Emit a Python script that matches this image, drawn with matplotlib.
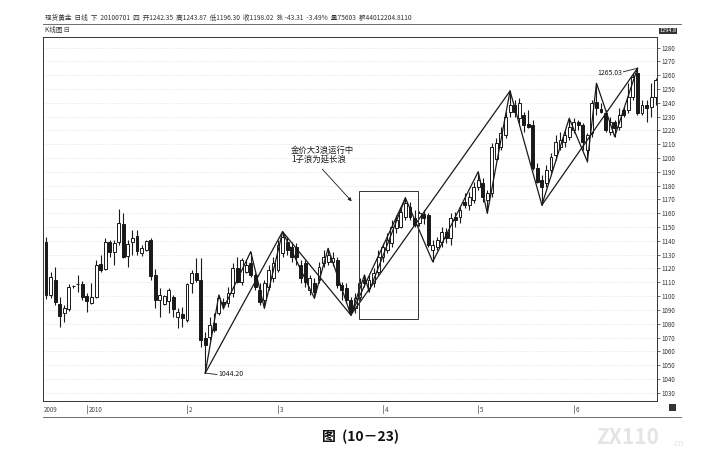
import matplotlib.pyplot as plt
from matplotlib.patches import Rectangle
from matplotlib.lines import Line2D

plt.rcParams['font.family'] = ['Noto Sans CJK SC', 'DejaVu Sans']

# daily candles, Dec 2009 - Jun 2010
opens = [1139.4, 1100.8, 1111.7, 1094.3, 1087.8, 1090.4, 1107.3, 1108.8, 1108.8, 1100.1,
         1095.2, 1099.6, 1123.3, 1119.4, 1139.4, 1132.2, 1139.4, 1152.2, 1129.1, 1139.4,
         1143.6, 1131.0, 1133.4, 1140.7, 1115.3, 1097.2, 1094.3, 1096.7, 1099.6, 1085.1,
         1087.0, 1082.7, 1109.3, 1116.5, 1111.7, 1069.4, 1070.6, 1080.3, 1087.5, 1095.9,
         1095.0, 1102.2, 1120.4, 1110.4, 1117.7, 1123.8, 1115.3, 1104.4, 1097.2, 1106.8,
         1112.9, 1118.9, 1131.0, 1139.4, 1135.8, 1135.8, 1122.5, 1123.8, 1104.4, 1109.3,
         1111.7, 1123.8, 1124.9, 1124.7, 1126.2, 1108.1, 1105.6, 1097.2, 1091.4, 1099.6,
         1111.7, 1105.9, 1109.5, 1117.7, 1128.6, 1133.4, 1138.3, 1149.1, 1150.3, 1157.6,
         1164.8, 1156.4, 1152.9, 1159.5, 1158.8, 1133.4, 1135.8, 1139.4, 1146.7, 1141.9,
         1157.6, 1157.6, 1168.4, 1166.0, 1169.6, 1179.3, 1181.7, 1169.6, 1174.5, 1199.0,
         1208.2, 1216.7, 1233.6, 1238.5, 1229.0, 1231.2, 1224.7, 1224.0, 1192.6, 1184.1,
         1181.7, 1191.4, 1202.2, 1208.2, 1211.9, 1215.5, 1220.3, 1226.4, 1224.0, 1205.9,
         1218.0, 1240.9, 1235.6, 1232.4, 1219.1, 1226.4, 1222.7, 1234.8, 1234.8, 1244.5,
         1261.4, 1232.4, 1238.5, 1237.3, 1244.5]
highs = [1142.6, 1117.7, 1121.1, 1099.6, 1093.5, 1108.8, 1108.0, 1115.3, 1110.9, 1102.2,
         1109.5, 1126.2, 1129.8, 1142.1, 1140.7, 1140.7, 1162.9, 1160.2, 1140.7, 1147.9,
         1147.9, 1137.0, 1140.7, 1142.1, 1119.6, 1105.9, 1100.8, 1105.9, 1100.8, 1091.4,
         1092.3, 1109.5, 1118.9, 1127.6, 1127.6, 1074.2, 1085.1, 1087.8, 1100.8, 1098.6,
         1106.8, 1124.0, 1128.6, 1127.6, 1126.2, 1132.2, 1116.7, 1109.3, 1111.7, 1122.5,
         1128.6, 1140.7, 1146.7, 1143.1, 1139.4, 1138.3, 1126.2, 1126.2, 1115.3, 1112.9,
         1124.9, 1133.4, 1134.6, 1131.9, 1128.6, 1110.4, 1109.3, 1099.6, 1102.2, 1113.1,
         1115.3, 1115.3, 1120.4, 1133.4, 1138.3, 1145.5, 1155.1, 1158.8, 1164.8, 1171.1,
         1168.4, 1162.4, 1161.6, 1162.4, 1160.0, 1140.7, 1143.1, 1150.3, 1149.1, 1160.0,
         1161.2, 1164.8, 1174.5, 1175.7, 1182.9, 1190.1, 1185.3, 1176.9, 1210.7, 1214.3,
         1222.7, 1233.6, 1248.6, 1242.1, 1243.5, 1233.6, 1235.0, 1227.6, 1196.2, 1187.7,
         1195.0, 1203.5, 1216.7, 1219.1, 1220.3, 1228.8, 1228.8, 1227.6, 1225.2, 1218.0,
         1242.1, 1254.2, 1239.7, 1234.8, 1230.0, 1227.6, 1236.1, 1237.2, 1254.2, 1261.4,
         1265.03, 1242.1, 1242.1, 1254.2, 1257.8]
lows = [1097.7, 1098.4, 1093.5, 1077.8, 1081.4, 1089.2, 1106.0, 1103.2, 1097.2, 1088.7,
        1094.6, 1098.6, 1117.5, 1118.9, 1128.6, 1122.5, 1137.0, 1127.6, 1121.1, 1129.8,
        1129.8, 1129.1, 1132.7, 1111.7, 1091.4, 1085.1, 1093.5, 1087.8, 1085.1, 1076.9,
        1077.8, 1081.4, 1102.2, 1110.2, 1063.3, 1044.2, 1068.2, 1074.2, 1086.3, 1091.0,
        1092.3, 1099.6, 1109.3, 1108.1, 1116.5, 1114.1, 1104.4, 1093.5, 1091.2, 1104.4,
        1110.4, 1117.7, 1128.6, 1129.8, 1124.9, 1122.5, 1109.3, 1106.8, 1100.8, 1098.4,
        1109.3, 1121.3, 1122.5, 1121.8, 1105.6, 1097.2, 1094.8, 1086.3, 1087.5, 1097.2,
        1106.8, 1103.2, 1106.8, 1115.3, 1124.9, 1131.0, 1135.8, 1145.5, 1149.1, 1155.1,
        1155.1, 1150.3, 1150.8, 1152.2, 1135.8, 1124.9, 1133.4, 1135.8, 1138.3, 1137.0,
        1150.3, 1152.7, 1163.6, 1162.4, 1167.2, 1176.9, 1168.4, 1160.0, 1172.0, 1198.6,
        1205.9, 1214.3, 1230.0, 1230.0, 1225.2, 1219.1, 1221.8, 1191.4, 1181.7, 1166.0,
        1179.3, 1189.0, 1198.6, 1205.9, 1208.2, 1213.1, 1218.0, 1220.3, 1205.9, 1197.4,
        1215.5, 1231.2, 1232.4, 1219.1, 1216.7, 1215.5, 1220.3, 1230.0, 1232.4, 1242.1,
        1231.2, 1231.2, 1226.4, 1230.0, 1238.5]
closes = [1100.8, 1114.1, 1095.9, 1085.6, 1091.4, 1106.8, 1107.0, 1108.5, 1099.6, 1096.7,
          1099.1, 1122.5, 1118.9, 1139.4, 1132.2, 1138.3, 1152.8, 1128.6, 1137.7, 1141.9,
          1132.9, 1134.6, 1139.9, 1114.6, 1097.2, 1100.8, 1100.1, 1104.4, 1090.4, 1088.7,
          1083.9, 1108.8, 1116.5, 1111.7, 1068.2, 1064.6, 1079.0, 1075.4, 1098.4, 1094.3,
          1102.2, 1120.4, 1110.4, 1126.2, 1122.5, 1115.3, 1106.8, 1095.9, 1109.3, 1118.9,
          1123.8, 1137.0, 1143.1, 1133.4, 1128.6, 1128.6, 1112.9, 1110.4, 1112.9, 1103.2,
          1121.3, 1128.6, 1129.8, 1127.6, 1108.1, 1104.4, 1097.2, 1088.7, 1098.6, 1109.5,
          1109.5, 1111.7, 1116.7, 1128.6, 1135.8, 1140.7, 1150.3, 1155.1, 1161.2, 1167.2,
          1157.6, 1151.5, 1160.2, 1156.6, 1137.0, 1137.0, 1140.7, 1146.7, 1141.9, 1156.4,
          1155.1, 1162.4, 1166.0, 1172.0, 1179.3, 1184.1, 1172.0, 1174.5, 1208.2, 1210.7,
          1217.9, 1230.0, 1238.5, 1233.6, 1240.0, 1224.0, 1222.7, 1192.6, 1182.9, 1179.3,
          1191.4, 1201.0, 1211.9, 1213.1, 1216.7, 1222.7, 1226.4, 1224.0, 1211.9, 1216.7,
          1239.7, 1236.1, 1233.6, 1220.3, 1226.4, 1221.6, 1231.2, 1231.2, 1244.5, 1259.0,
          1232.4, 1238.5, 1236.1, 1244.5, 1256.6]

# wave pivots: (candle index, 'H' or 'L')
big_wave = [(35, 'L'), (52, 'H'), (67, 'L'), (102, 'H'), (109, 'L'), (130, 'H')]
sub_wave1 = [(35, 'L'), (38, 'H'), (39, 'L'), (45, 'H'), (48, 'L'), (52, 'H'), (59, 'L'),
             (62, 'H'), (67, 'L'), (70, 'H'), (71, 'L'), (79, 'H'), (85, 'L'), (95, 'H'),
             (97, 'L'), (102, 'H')]
sub_wave2 = [(67, 'L'), (79, 'H')]
sub_wave3 = [(109, 'L'), (115, 'H'), (119, 'L'), (121, 'H'), (125, 'L'), (130, 'H')]

month_pos = [9, 31, 51, 74, 95, 116]
month_labels = ['2010', '2', '3', '4', '5', '6']
price_ticks = list(range(1030, 1290, 10))

ink = '#1a1a1a'

fig = plt.figure(figsize=(7.19, 4.59), dpi=100)
W, H = 719.0, 459.0
ax = fig.add_axes([43 / W, 1 - 401 / H, (657 - 43) / W, (401 - 37) / H])

# candles
for i in range(len(opens)):
    o, h, l, c = opens[i], highs[i], lows[i], closes[i]
    ax.vlines(i, l, h, color=ink, lw=0.8, zorder=2)
    lo, hi = min(o, c), max(o, c)
    fc = ink if c < o else 'white'
    ax.add_patch(Rectangle((i - 0.32, lo), 0.64, max(hi - lo, 0.4), facecolor=fc,
                           edgecolor=ink, lw=0.7, zorder=3))


def pivots(seq):
    xs = [p[0] for p in seq]
    ys = [highs[p[0]] if p[1] == 'H' else lows[p[0]] for p in seq]
    return xs, ys


for seq in [big_wave, sub_wave1, sub_wave2, sub_wave3]:
    xs, ys = pivots(seq)
    ax.plot(xs, ys, color=ink, lw=0.9, zorder=4)

# box around the extended 1st sub-wave
ax.add_patch(Rectangle((68.8, 1083.4), 13.0, 92.8, fill=False, edgecolor='#333333', lw=0.7, zorder=5))

ax.text(53.8, 1209, '金价大3浪运行中\n1子浪为延长浪', fontsize=6, va='top', ha='left',
        color=ink, linespacing=1.05)
ax.annotate('', xy=(67.6, 1167.2), xytext=(60.3, 1193.5),
            arrowprops=dict(arrowstyle='-|>', color=ink, lw=0.6, mutation_scale=5))

ax.plot([35, 37.6], [lows[35], 1043.2], color=ink, lw=0.6)
ax.text(37.8, 1043.2, '1044.20', fontsize=5, va='center', ha='left', color=ink)
ax.plot([126.9, 130], [1262.5, highs[130]], color=ink, lw=0.6)
ax.text(126.7, 1261.8, '1265.03', fontsize=5, va='center', ha='right', color=ink)

ax.set_xlim(-0.66, 134.3)
ax.set_ylim(1024.0, 1287.7)
ax.yaxis.tick_right()
ax.set_yticks(price_ticks)
ax.set_yticklabels([str(t) for t in price_ticks], fontsize=4.5, color='#333333')
ax.tick_params(axis='y', length=2, width=0.5, pad=1.5, colors='#333333')
ax.set_xticks([])
ax.grid(axis='y', color='#dddddd', ls=':', lw=0.6)
for s in ax.spines.values():
    s.set_linewidth(0.7)
    s.set_color('#333333')

# date row
tr = ax.get_xaxis_transform()
ax.text(-0.4, -0.026, '2009', transform=tr, fontsize=4.5, ha='left', va='center', color='#444444')
for p, lab in zip(month_pos, month_labels):
    ax.plot([p, p], [-0.012, -0.034], transform=tr, color='#555555', lw=0.5, clip_on=False)
    ax.text(p + 0.4, -0.026, lab, transform=tr, fontsize=4.5, ha='left', va='center', color='#444444')

fig.add_artist(Line2D([43 / W, 681 / W], [1 - 417 / H, 1 - 417 / H], color='#555555', lw=0.6))
fig.add_artist(Line2D([43 / W, 681 / W], [1 - 24 / H, 1 - 24 / H], color='#555555', lw=0.6))
fig.add_artist(Rectangle((669 / W, 1 - 411 / H), 7 / W, 7 / H, transform=fig.transFigure,
                         facecolor='#333333', edgecolor='none'))

# header
fig.text(45 / W, 1 - 18 / H,
         '现货黄金  日线  下  20100701  四  开1242.35  高1243.87  低1196.30  收1198.02  涨 -43.31  -3.49%  量75603  额44012204.8110',
         fontsize=4.8, va='center', ha='left', color='#333333')
fig.text(45 / W, 1 - 30 / H, 'K线图 ⊟', fontsize=4.8, va='center', ha='left', color='#333333')
fig.text(668 / W, 1 - 31 / H, '1294.8', fontsize=4, va='center', ha='center', color='white',
         bbox=dict(boxstyle='square,pad=0.15', facecolor='#333333', edgecolor='none'))

# caption and watermark
fig.text(360 / W, 1 - 437 / H, '图  (10－23)', fontsize=10, fontweight='bold', ha='center', va='center',
         color='#111111')
fig.text(596 / W, 1 - 438 / H, 'ZX110', fontsize=15, fontweight='bold', style='italic',
         color='#e4e4e4', ha='left', va='center')
fig.text(672 / W, 1 - 443 / H, '.cn', fontsize=6, color='#e4e4e4', ha='left', va='center')

fig.savefig('out.png', dpi=100)
